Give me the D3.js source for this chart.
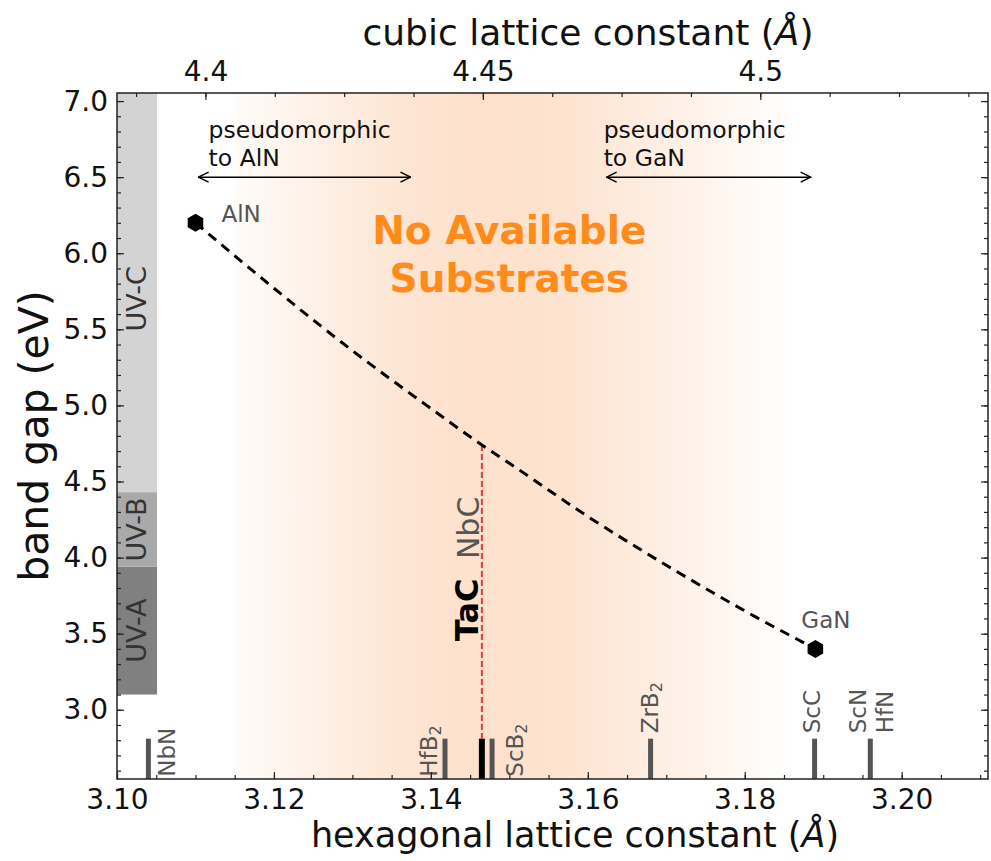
<!DOCTYPE html>
<html>
<head>
<meta charset="utf-8">
<script src="https://cdn.jsdelivr.net/npm/d3@7"></script>
<style>
  body { margin: 0; background: #fff; }
  text { font-family: "DejaVu Sans", sans-serif; }
</style>
</head>
<body>
<div id="chart"></div>
<script>
// ---- data ----
var hexTicks = [3.10, 3.12, 3.14, 3.16, 3.18, 3.20];
var cubicTicks = [4.40, 4.45, 4.50];
var gapTicks = [3.0, 3.5, 4.0, 4.5, 5.0, 5.5, 6.0, 6.5, 7.0];

// AlGaN bowing curve (hexagonal a, band gap)
var curveA = [3.110, 3.120, 3.130, 3.140, 3.1465, 3.150, 3.160, 3.170, 3.180, 3.189];
var curveGap = [6.20, 5.77, 5.36, 4.98, 4.74, 4.62, 4.27, 3.95, 3.65, 3.40];

// end members
var endNames = ["AlN", "GaN"];
var endA = [3.110, 3.189];
var endGap = [6.20, 3.40];

// UV bands
var uvNames = ["UV-A", "UV-B", "UV-C"];
var uvLow = [3.10, 3.94, 4.43];
var uvHigh = [3.94, 4.43, 7.06];
var uvColors = ["#808080", "#a9a9a9", "#d3d3d3"];

// substrates (label, hexagonal-equivalent lattice constant)
var subNames = ["NbN", "HfB2", "TaC", "ScB2", "ZrB2", "ScC", "ScN/HfN"];
var subA = [3.104, 3.1418, 3.1465, 3.1478, 3.168, 3.1889, 3.196];
var subTop = 2.81;
var tacA = 3.1465;
var tacGap = 4.74;

// ---- layout ----
var svgWidth = 991, svgHeight = 861;
var margin = { top: 93, right: 3, bottom: 82, left: 117 };
var width = svgWidth - margin.left - margin.right;
var height = svgHeight - margin.top - margin.bottom;

var svg = d3.select("#chart").append("svg")
  .attr("width", svgWidth)
  .attr("height", svgHeight);

var defs = svg.append("defs");

var chartGroup = svg.append("g")
  .attr("transform", `translate(${margin.left}, ${margin.top})`);

var xScale = d3.scaleLinear().domain([3.10, 3.211]).range([0, width]);
var xCubic = d3.scaleLinear().domain([3.10 * Math.SQRT2, 3.211 * Math.SQRT2]).range([0, width]);
var yScale = d3.scaleLinear().domain([2.545, 7.053]).range([height, 0]);

defs.append("clipPath").attr("id", "plotclip")
  .append("rect").attr("width", width).attr("height", height);

// shaded "no substrates" region
var grad = defs.append("linearGradient")
  .attr("id", "shade")
  .attr("gradientUnits", "userSpaceOnUse")
  .attr("x1", xScale(3.1148)).attr("x2", xScale(3.1865))
  .attr("y1", 0).attr("y2", 0);
[[0, 0.12], [0.1, 0.35], [0.3, 0.85], [0.45, 1], [0.6, 0.9], [0.8, 0.45], [1, 0]].forEach(s => {
  grad.append("stop").attr("offset", s[0]).attr("stop-color", "#fde1cc").attr("stop-opacity", s[1]);
});

var plot = chartGroup.append("g").attr("clip-path", "url(#plotclip)");

plot.append("rect")
  .attr("x", xScale(3.1148)).attr("width", xScale(3.1865) - xScale(3.1148))
  .attr("y", 0).attr("height", height)
  .attr("fill", "url(#shade)");

// UV bands
var bandX0 = xScale(3.10), bandX1 = xScale(3.1051);
plot.selectAll(".uv")
  .data(uvNames)
  .enter()
  .append("rect")
  .attr("x", bandX0)
  .attr("width", bandX1 - bandX0)
  .attr("y", (d, i) => yScale(uvHigh[i]))
  .attr("height", (d, i) => yScale(uvLow[i]) - yScale(uvHigh[i]))
  .attr("fill", (d, i) => uvColors[i]);

plot.selectAll(".uvlabel")
  .data(uvNames)
  .enter()
  .append("text")
  .attr("transform", (d, i) => {
    var top = Math.min(uvHigh[i], 6.97);
    return `translate(${(bandX0 + bandX1) / 2}, ${yScale((uvLow[i] + top) / 2)})rotate(-90)`;
  })
  .attr("text-anchor", "middle")
  .attr("dy", "0.35em")
  .attr("font-size", 27)
  .attr("fill", "#333")
  .text(d => d);

// substrate bars
plot.selectAll(".sub")
  .data(subNames)
  .enter()
  .append("line")
  .attr("x1", (d, i) => xScale(subA[i]))
  .attr("x2", (d, i) => xScale(subA[i]))
  .attr("y1", yScale(2.5))
  .attr("y2", yScale(subTop))
  .attr("stroke", d => d === "TaC" ? "#000" : "#555")
  .attr("stroke-width", d => d === "TaC" ? 6 : 5);

// substrate labels: [text, subscript, bar index, x offset px, y value of text start]
var subLabels = [
  ["NbN", "", 0, 19, 2.56],
  ["HfB", "2", 1, -16, 2.56],
  ["ScB", "2", 3, 23, 2.56],
  ["ZrB", "2", 4, -1, 2.845],
  ["ScC", "", 5, -3, 2.845],
  ["ScN", "", 6, -12, 2.845],
  ["HfN", "", 6, 15, 2.845]
];
subLabels.forEach(l => {
  var t = plot.append("text")
    .attr("transform", `translate(${xScale(subA[l[2]]) + l[3]}, ${yScale(l[4])})rotate(-90)`)
    .attr("dy", "0.35em")
    .attr("font-size", 23)
    .attr("fill", "#555")
    .text(l[0]);
  if (l[1]) {
    t.append("tspan").attr("font-size", 16).attr("dy", "0.25em").text(l[1]);
  }
});

// TaC / NbC labels
plot.append("text")
  .attr("transform", `translate(${xScale(tacA) - 15}, ${yScale(3.45)})rotate(-90)`)
  .attr("dy", "0.35em")
  .attr("font-size", 32)
  .attr("font-weight", "bold")
  .attr("fill", "#000")
  .text("TaC");
plot.append("text")
  .attr("transform", `translate(${xScale(tacA) - 13}, ${yScale(3.99)})rotate(-90)`)
  .attr("dy", "0.35em")
  .attr("font-size", 30)
  .attr("fill", "#555")
  .text("NbC");

// red dashed TaC line
plot.append("line")
  .attr("x1", xScale(tacA)).attr("x2", xScale(tacA))
  .attr("y1", yScale(tacGap)).attr("y2", yScale(subTop))
  .attr("stroke", "#e8393a")
  .attr("stroke-width", 2)
  .attr("stroke-dasharray", "6,3");

// bowing curve
var curveLine = d3.line()
  .x(d => xScale(d[0]))
  .y(d => yScale(d[1]))
  .curve(d3.curveMonotoneX);
plot.append("path")
  .datum(curveA.map((a, i) => [a, curveGap[i]]))
  .attr("d", curveLine)
  .attr("fill", "none")
  .attr("stroke", "#000")
  .attr("stroke-width", 3)
  .attr("stroke-dasharray", "10,7");

// hexagon markers
var hexPath = d3.line()(d3.range(6).map(k => {
  var ang = Math.PI / 2 + k * Math.PI / 3;
  return [9 * Math.cos(ang), -9 * Math.sin(ang)];
})) + "Z";
plot.selectAll(".end")
  .data(endNames)
  .enter()
  .append("path")
  .attr("d", hexPath)
  .attr("transform", (d, i) => `translate(${xScale(endA[i])}, ${yScale(endGap[i])})`)
  .attr("fill", "#000");

plot.append("text")
  .attr("x", xScale(endA[0]) + 26).attr("y", yScale(endGap[0]) - 1)
  .attr("font-size", 23).attr("fill", "#555")
  .text("AlN");
plot.append("text")
  .attr("x", xScale(endA[1]) - 14).attr("y", yScale(endGap[1]) - 21)
  .attr("font-size", 23).attr("fill", "#555")
  .text("GaN");

// arrows
var arrow = defs.append("marker")
  .attr("id", "head")
  .attr("viewBox", "0 0 12 12")
  .attr("refX", 11).attr("refY", 6)
  .attr("markerWidth", 12).attr("markerHeight", 12)
  .attr("markerUnits", "userSpaceOnUse")
  .attr("orient", "auto-start-reverse");
arrow.append("path")
  .attr("d", "M1,1 L11,6 L1,11")
  .attr("fill", "none")
  .attr("stroke", "#000")
  .attr("stroke-width", 1.5);

var arrowSpans = [[3.1104, 3.1374], [3.1624, 3.1884]];
plot.selectAll(".arrow")
  .data(arrowSpans)
  .enter()
  .append("line")
  .attr("x1", d => xScale(d[0]))
  .attr("x2", d => xScale(d[1]))
  .attr("y1", yScale(6.5))
  .attr("y2", yScale(6.5))
  .attr("stroke", "#000")
  .attr("stroke-width", 1.5)
  .attr("marker-start", "url(#head)")
  .attr("marker-end", "url(#head)");

var pseudoText = [["pseudomorphic", "to AlN"], ["pseudomorphic", "to GaN"]];
pseudoText.forEach((lines, i) => {
  var tx = xScale(arrowSpans[i][0]) + (i === 0 ? 10 : -3);
  var t = plot.append("text")
    .attr("x", tx)
    .attr("y", yScale(6.76))
    .attr("font-size", 23.5)
    .attr("fill", "#111");
  lines.forEach((s, j) => {
    t.append("tspan")
      .attr("x", tx)
      .attr("dy", j === 0 ? 0 : 28)
      .text(s);
  });
});

// headline
var head = plot.append("text")
  .attr("x", xScale(3.1500))
  .attr("y", yScale(6.06))
  .attr("text-anchor", "middle")
  .attr("font-size", 39)
  .attr("font-weight", "bold")
  .attr("fill", "#ff8c1a");
head.append("tspan").attr("x", xScale(3.1500)).text("No Available");
head.append("tspan").attr("x", xScale(3.1500)).attr("dy", 48).text("Substrates");

// ---- axes ----
function styleAxis(g) {
  g.select(".domain").remove();
  g.selectAll("line").attr("stroke", "#222").attr("stroke-width", 1.2);
  g.selectAll("text").attr("font-size", 28).attr("fill", "#111")
    .attr("font-family", "DejaVu Sans, sans-serif");
}

// minor ticks
chartGroup.append("g").attr("transform", `translate(0, ${height})`)
  .call(d3.axisBottom(xScale).tickValues(d3.range(3.10, 3.2111, 0.005)).tickSizeInner(-4).tickSizeOuter(0).tickFormat(""))
  .call(styleAxis);
chartGroup.append("g")
  .call(d3.axisTop(xCubic).tickValues(d3.range(4.3875, 4.5412, 0.0125)).tickSizeInner(-4).tickSizeOuter(0).tickFormat(""))
  .call(styleAxis);
chartGroup.append("g")
  .call(d3.axisLeft(yScale).tickValues(d3.range(2.6, 7.05, 0.1)).tickSizeInner(-4).tickSizeOuter(0).tickFormat(""))
  .call(styleAxis);
chartGroup.append("g").attr("transform", `translate(${width}, 0)`)
  .call(d3.axisRight(yScale).tickValues(d3.range(2.6, 7.05, 0.1)).tickSizeInner(-4).tickSizeOuter(0).tickFormat(""))
  .call(styleAxis);

// major ticks
chartGroup.append("g").attr("transform", `translate(0, ${height})`)
  .call(d3.axisBottom(xScale).tickValues(hexTicks).tickSizeInner(-7).tickSizeOuter(0).tickPadding(10).tickFormat(d3.format(".2f")))
  .call(styleAxis);
chartGroup.append("g")
  .call(d3.axisTop(xCubic).tickValues(cubicTicks).tickSizeInner(-7).tickSizeOuter(0).tickPadding(12).tickFormat(d => d3.format("~g")(d)))
  .call(styleAxis);
chartGroup.append("g")
  .call(d3.axisLeft(yScale).tickValues(gapTicks).tickSizeInner(-7).tickSizeOuter(0).tickPadding(9).tickFormat(d3.format(".1f")))
  .call(styleAxis);
chartGroup.append("g").attr("transform", `translate(${width}, 0)`)
  .call(d3.axisRight(yScale).tickValues(gapTicks).tickSizeInner(-7).tickSizeOuter(0).tickFormat(""))
  .call(styleAxis);

// frame
chartGroup.append("rect")
  .attr("width", width).attr("height", height)
  .attr("fill", "none")
  .attr("stroke", "#222")
  .attr("stroke-width", 1.5);

// titles
var xTitle = svg.append("text")
  .attr("x", 575)
  .attr("y", 847)
  .attr("text-anchor", "middle")
  .attr("font-size", 35)
  .attr("fill", "#111")
  .text("hexagonal lattice constant (");
xTitle.append("tspan").attr("font-style", "italic").text("Å");
xTitle.append("tspan").text(")");

var topTitle = svg.append("text")
  .attr("x", 588)
  .attr("y", 45)
  .attr("text-anchor", "middle")
  .attr("font-size", 36)
  .attr("fill", "#111")
  .text("cubic lattice constant (");
topTitle.append("tspan").attr("font-style", "italic").text("Å");
topTitle.append("tspan").text(")");

svg.append("text")
  .attr("transform", `translate(48, 436)rotate(-90)`)
  .attr("text-anchor", "middle")
  .attr("font-size", 41)
  .attr("fill", "#111")
  .text("band gap (eV)");
</script>
</body>
</html>
